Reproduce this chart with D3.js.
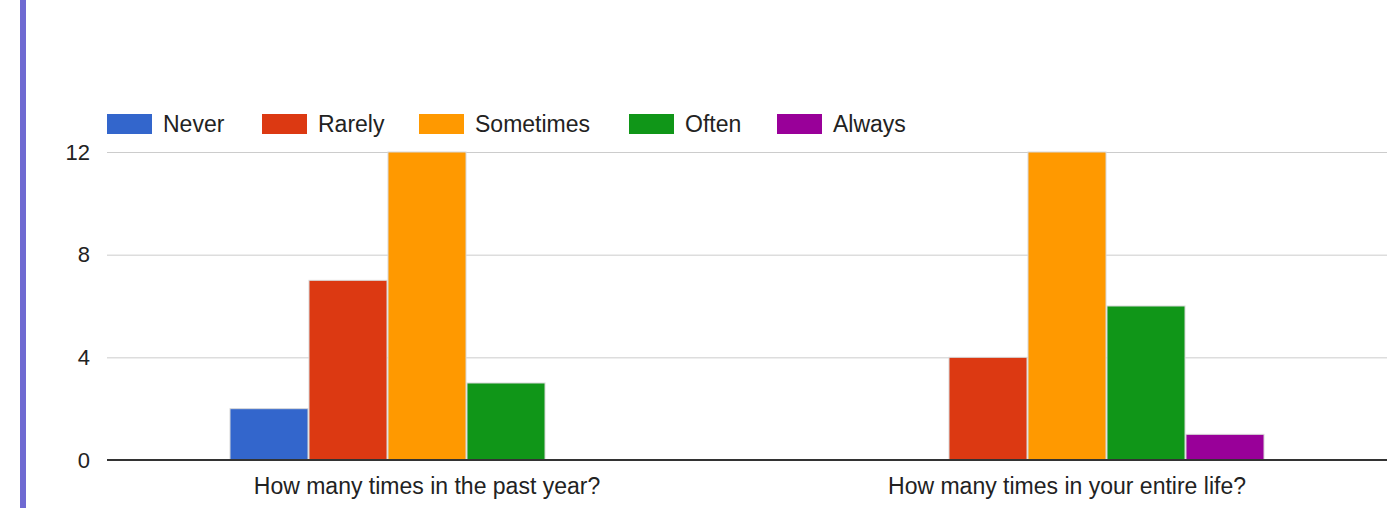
<!DOCTYPE html>
<html>
<head>
<meta charset="utf-8">
<script src="https://cdn.jsdelivr.net/npm/d3@7/dist/d3.min.js"></script>
<style>
  html, body { margin: 0; padding: 0; background: #fff; }
  svg { display: block; }
  text { font-family: "Liberation Sans", Arial, sans-serif; fill: #222; }
</style>
</head>
<body>
<svg id="chart" width="1399" height="508"></svg>
<script>
// Survey answers per question
const categories = ["How many times in the past year?", "How many times in your entire life?"];
const seriesNames = ["Never", "Rarely", "Sometimes", "Often", "Always"];
const seriesColors = ["#3366cc", "#dc3912", "#ff9900", "#109618", "#990099"];
const never     = [2, 0];
const rarely    = [7, 4];
const sometimes = [12, 12];
const often     = [3, 6];
const always    = [0, 1];
const yTicks = [0, 4, 8, 12];

const seriesValues = [never, rarely, sometimes, often, always];

const svg = d3.select("#chart");
const W = 1399, H = 508;
const plot = { left: 107, right: 1387, top: 152, bottom: 460 };

// Accent rule on the left edge of the card
svg.append("rect").attr("x", 20).attr("y", 0).attr("width", 6).attr("height", H).attr("fill", "#6f6ad2");

const y = d3.scaleLinear().domain([0, 12]).range([plot.bottom, plot.top]);
const x0 = d3.scaleBand().domain(categories).range([plot.left, plot.right]).padding(0);
const groupW = 395;
const x1 = d3.scaleBand().domain(seriesNames).range([0, groupW]).padding(0);

// Gridlines
const gridAxis = d3.axisLeft(y).tickValues(yTicks).tickSize(-(plot.right - plot.left)).tickFormat("");
const grid = svg.append("g").attr("transform", `translate(${plot.left},0)`).call(gridAxis);
grid.select(".domain").remove();
grid.selectAll("line").attr("stroke", "#cccccc").attr("stroke-width", 1);

// Y tick labels
const yAxis = d3.axisLeft(y).tickValues(yTicks).tickSize(0).tickPadding(17);
const ya = svg.append("g").attr("transform", `translate(${plot.left},0)`).call(yAxis);
ya.select(".domain").remove();
ya.selectAll("text").attr("font-size", 22).attr("fill", "#222").attr("font-family", "Liberation Sans, Arial, sans-serif");

// Bars
const rows = [];
categories.forEach((c, ci) => {
  seriesNames.forEach((s, si) => {
    rows.push({ cat: c, name: s, value: seriesValues[si][ci], color: seriesColors[si] });
  });
});

svg.append("g").selectAll("rect")
  .data(rows.filter(d => d.value > 0))
  .join("rect")
  .attr("x", d => x0(d.cat) + (x0.bandwidth() - groupW) / 2 + x1(d.name) + 0.5)
  .attr("y", d => y(d.value))
  .attr("width", x1.bandwidth() - 1)
  .attr("height", d => y(0) - y(d.value))
  .attr("fill", d => d.color)
  .attr("stroke", "#d8d8d8")
  .attr("stroke-width", 1);

// Baseline
svg.append("line")
  .attr("x1", plot.left).attr("x2", plot.right)
  .attr("y1", y(0)).attr("y2", y(0))
  .attr("stroke", "#333").attr("stroke-width", 2);

// Category labels
const xAxis = d3.axisBottom(x0).tickSize(0).tickPadding(18);
const xa = svg.append("g").attr("transform", `translate(0,${plot.bottom})`).call(xAxis);
xa.select(".domain").remove();
xa.selectAll("text").attr("font-size", 23).attr("fill", "#222").attr("font-family", "Liberation Sans, Arial, sans-serif");

// Legend
const legendX = [107, 262, 419, 629, 777];
const lg = svg.append("g");
seriesNames.forEach((s, i) => {
  const g = lg.append("g").attr("transform", `translate(${legendX[i]},114)`);
  g.append("rect").attr("width", 45).attr("height", 20).attr("fill", seriesColors[i]);
  g.append("text").attr("x", 56).attr("y", 10).attr("dy", "0.35em")
    .attr("font-size", 23).text(s);
});
</script>
</body>
</html>
